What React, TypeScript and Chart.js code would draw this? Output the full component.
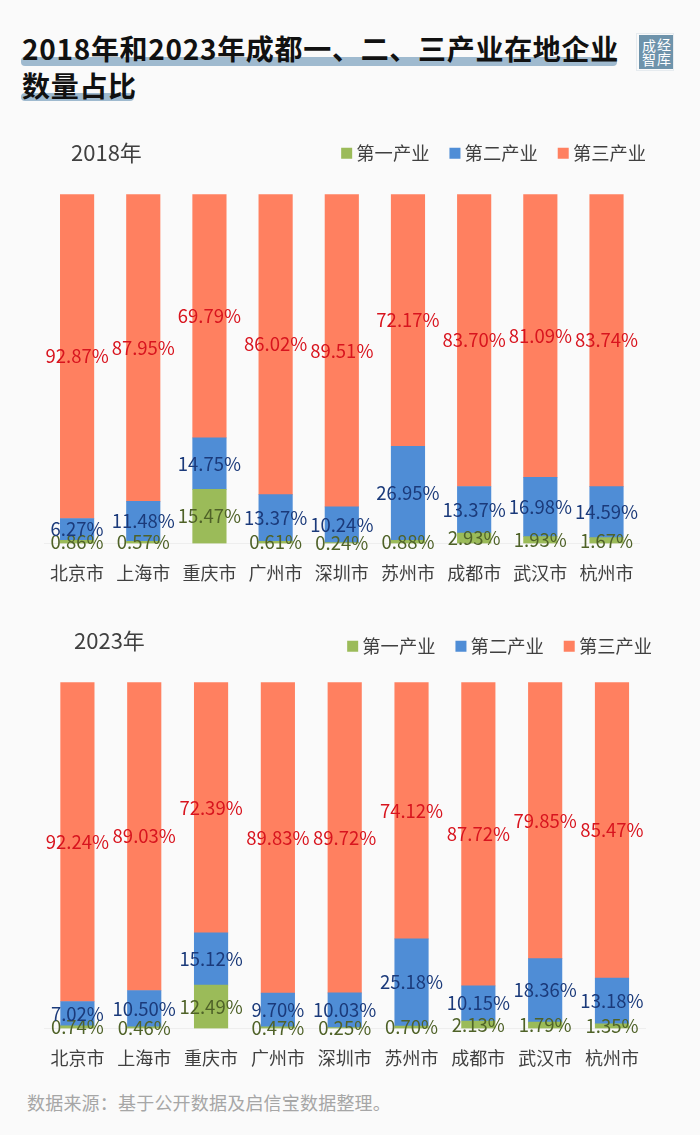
import { useEffect, useRef } from 'react';
import Chart from 'chart.js/auto';

const cities = ['北京市', '上海市', '重庆市', '广州市', '深圳市', '苏州市', '成都市', '武汉市', '杭州市'];
const seriesNames = ['第一产业', '第二产业', '第三产业'];

const primary2018 = [0.86, 0.57, 15.47, 0.61, 0.24, 0.88, 2.93, 1.93, 1.67];
const secondary2018 = [6.27, 11.48, 14.75, 13.37, 10.24, 26.95, 13.37, 16.98, 14.59];
const tertiary2018 = [92.87, 87.95, 69.79, 86.02, 89.51, 72.17, 83.7, 81.09, 83.74];

const primary2023 = [0.74, 0.46, 12.49, 0.47, 0.25, 0.7, 2.13, 1.79, 1.35];
const secondary2023 = [7.02, 10.5, 15.12, 9.7, 10.03, 25.18, 10.15, 18.36, 13.18];
const tertiary2023 = [92.24, 89.03, 72.39, 89.83, 89.72, 74.12, 87.72, 79.85, 85.47];

const barColors = ['#9bbb59', '#4f8dd6', '#ff8060'];
const labelColors = ['#4f6228', '#1b3a7a', '#d8141e'];
const FONT = '"Noto Sans CJK SC", "Noto Sans", sans-serif';

// draws the value in the middle of every segment
const segmentLabels = {
  id: 'segmentLabels',
  afterDatasetsDraw(chart: any) {
    const ctx = chart.ctx;
    ctx.save();
    ctx.font = `18.5px ${FONT}`;
    ctx.textAlign = 'center';
    ctx.textBaseline = 'middle';
    chart.data.datasets.forEach((ds: any, i: number) => {
      ctx.fillStyle = labelColors[i];
      chart.getDatasetMeta(i).data.forEach((bar: any, j: number) => {
        ctx.fillText(ds.data[j].toFixed(2) + '%', bar.x, (bar.y + bar.base) / 2);
      });
    });
    ctx.restore();
  },
};

interface StackProps {
  top: number;
  height: number;
  series: number[][];
  padRight: number;
  axisGap: number;
  legendGap: number;
}

function StackChart({ top, height, series, padRight, axisGap, legendGap }: StackProps) {
  const ref = useRef<HTMLCanvasElement>(null);

  useEffect(() => {
    if (!ref.current) return;
    // extra room between the legend and the bars
    const legendSpace = {
      id: 'legendSpace',
      beforeInit(chart: any) {
        const fit = chart.legend.fit;
        chart.legend.fit = function () {
          fit.call(this);
          this.height += legendGap;
        };
      },
    };
    const chart = new Chart(ref.current, {
      type: 'bar',
      plugins: [segmentLabels, legendSpace],
      data: {
        labels: cities,
        datasets: series.map((values, i) => ({
          label: seriesNames[i],
          data: values,
          backgroundColor: barColors[i],
          borderWidth: 0,
          barThickness: 33.5,
        })),
      },
      options: {
        responsive: false,
        animation: false,
        layout: { padding: { left: 44, right: padRight, top: 0, bottom: 0 } },
        plugins: {
          tooltip: { enabled: false },
          legend: {
            position: 'top',
            align: 'end',
            onClick: () => {},
            labels: {
              usePointStyle: true,
              pointStyle: 'rect',
              boxWidth: 1,
              boxHeight: 11,
              padding: 25,
              color: '#404040',
              font: { family: FONT, size: 18.3 },
            },
          },
        },
        scales: {
          x: {
            stacked: true,
            grid: { display: false },
            border: { color: '#eeeeee' },
            ticks: {
              color: '#404040',
              padding: 11,
              autoSkip: false,
              maxRotation: 0,
              font: { family: FONT, size: 18 },
            },
          },
          y: {
            stacked: true,
            position: 'right',
            min: 0,
            max: 100,
            grid: { display: false },
            border: { display: false },
            ticks: { display: false },
            afterFit: (scale: any) => {
              scale.width = axisGap;
            },
          },
        },
      },
    });
    return () => chart.destroy();
  }, []);

  return (
    <canvas
      ref={ref}
      width={700}
      height={height}
      style={{ position: 'absolute', left: 0, top, width: 700, height }}
    />
  );
}

const abs = (style: React.CSSProperties): React.CSSProperties => ({ position: 'absolute', ...style });

export default function App() {
  useEffect(() => {
    document.body.style.margin = '0';
  }, []);

  return (
    <div style={{ position: 'relative', width: 700, height: 1135, overflow: 'hidden', background: '#fafafa', fontFamily: FONT }}>
      {/* title with its highlighter strokes */}
      <div style={abs({ left: 21, top: 57, width: 596, height: 9, borderRadius: 4, background: '#9fbacf' })} />
      <div style={abs({ left: 21, top: 93, width: 113, height: 8, borderRadius: 4, background: '#9fbacf' })} />
      <div style={abs({ left: 22, top: 30, fontSize: 28, fontWeight: 700, lineHeight: '37px', color: '#111', width: 610, letterSpacing: 0.7 })}>
        2018年和2023年成都一、二、三产业在地企业 数量占比
      </div>

      {/* logo */}
      <div style={abs({ left: 636, top: 33, width: 38, height: 38, border: '1px solid #e6ebef', boxSizing: 'border-box' })} />
      <div style={abs({ left: 639, top: 35, width: 34, height: 34, background: '#6e93ab', color: '#fff', fontFamily: '"Noto Sans CJK SC"', fontSize: 14, lineHeight: '15px', textAlign: 'center' })}>
        <div style={abs({ left: 3, top: 3 })}>成</div>
        <div style={abs({ left: 18, top: 2 })}>经</div>
        <div style={abs({ left: 3, top: 17 })}>智</div>
        <div style={abs({ left: 18, top: 16 })}>库</div>
      </div>

      <StackChart top={119} height={476} series={[primary2018, secondary2018, tertiary2018]} padRight={29} axisGap={31.4} legendGap={22} />
      <StackChart top={612} height={468} series={[primary2023, secondary2023, tertiary2023]} padRight={23} axisGap={31.6} legendGap={17} />

      <div style={abs({ left: 71, top: 135, fontSize: 22, color: '#404040', lineHeight: '32px' })}>2018年</div>
      <div style={abs({ left: 74, top: 623, fontSize: 22, color: '#404040', lineHeight: '32px' })}>2023年</div>

      <div style={abs({ left: 27, top: 1089, fontSize: 18, color: '#a6a6a6', lineHeight: '26px', whiteSpace: 'nowrap', letterSpacing: 0.2 })}>
        数据来源：基于公开数据及启信宝数据整理。
      </div>
    </div>
  );
}
